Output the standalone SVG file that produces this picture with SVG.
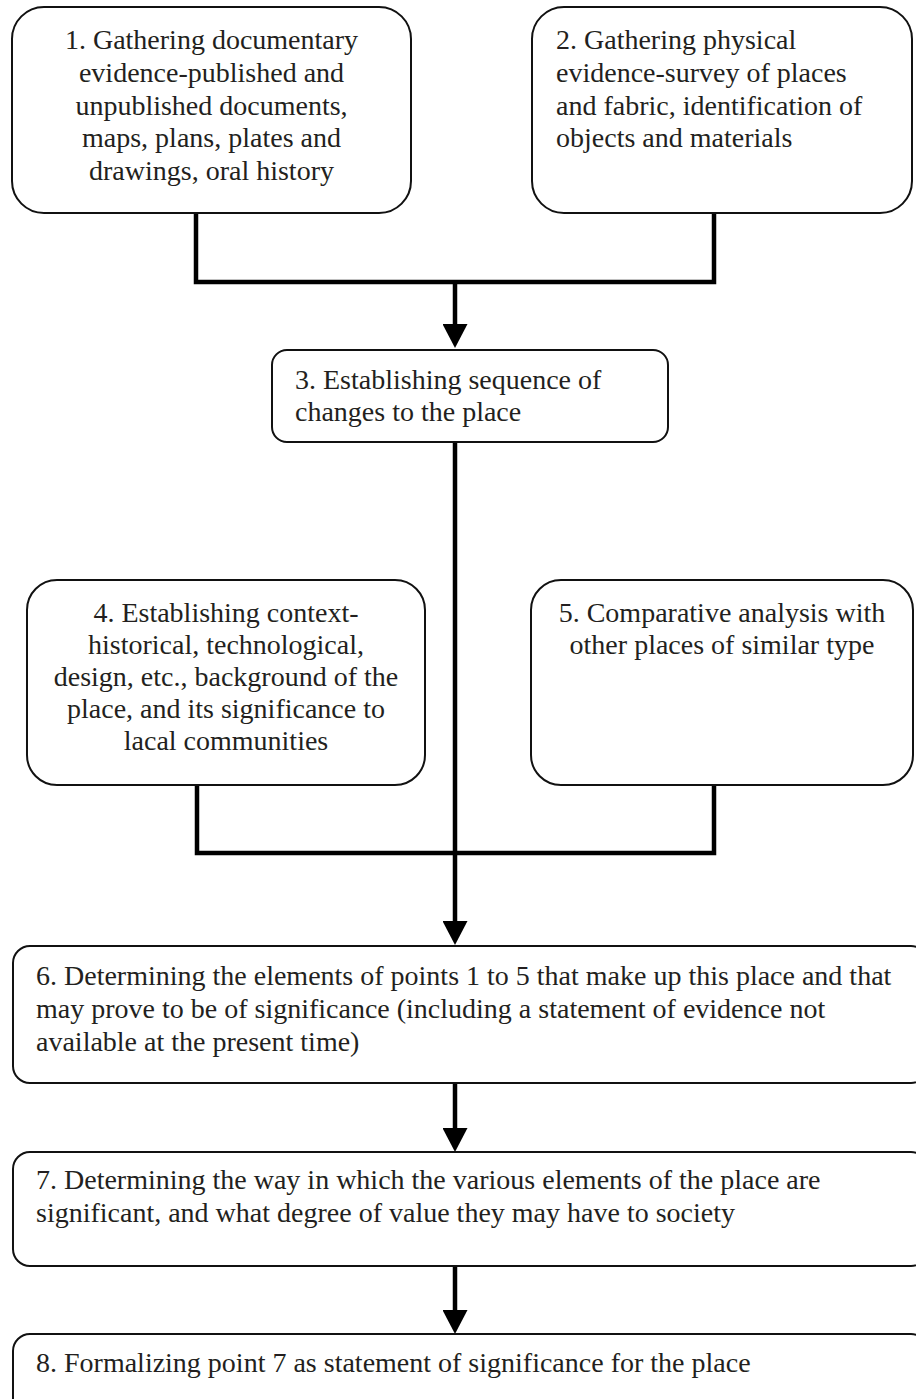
<svg xmlns="http://www.w3.org/2000/svg" width="916" height="1399" viewBox="0 0 916 1399">
<defs>
<style>
.box{fill:#fff;stroke:#111;stroke-width:2}
.t{font-family:"Liberation Serif","Times New Roman",serif;font-size:28px;fill:#231f20}
.c{text-anchor:middle}
.conn{fill:none;stroke:#000;stroke-width:4.5;stroke-linejoin:miter;stroke-linecap:butt}
</style>
<marker id="arr" markerUnits="userSpaceOnUse" viewBox="0 0 24 25" refX="0" refY="12.5" markerWidth="24" markerHeight="25" orient="auto">
<path d="M0,0 L24,12.5 L0,25 Z" fill="#000"/>
</marker>
</defs>
<rect width="916" height="1399" fill="#fff"/>
<g id="connectors">
<path class="conn" d="M196,213 V282 H714 V213"/>
<path class="conn" d="M455,282 V324" marker-end="url(#arr)"/>
<path class="conn" d="M197,785 V853 H714 V785"/>
<path class="conn" d="M455,442 V921" marker-end="url(#arr)"/>
<path class="conn" d="M455,1083 V1128" marker-end="url(#arr)"/>
<path class="conn" d="M455,1266 V1310" marker-end="url(#arr)"/>
</g>
<g id="node1">
<rect class="box" x="12" y="7" width="399" height="206" rx="32"/>
<text class="t c" x="211.5" y="49">1. Gathering documentary</text>
<text class="t c" x="211.5" y="82">evidence-published and</text>
<text class="t c" x="211.5" y="115">unpublished documents,</text>
<text class="t c" x="211.5" y="147">maps, plans, plates and</text>
<text class="t c" x="211.5" y="180">drawings, oral history</text>
</g>
<g id="node2">
<rect class="box" x="532" y="7" width="380" height="206" rx="32"/>
<text class="t" x="556" y="49">2. Gathering physical</text>
<text class="t" x="556" y="82">evidence-survey of places</text>
<text class="t" x="556" y="115">and fabric, identification of</text>
<text class="t" x="556" y="147">objects and materials</text>
</g>
<g id="node3">
<rect class="box" x="272" y="350" width="396" height="92" rx="15"/>
<text class="t" x="295" y="389">3. Establishing sequence of</text>
<text class="t" x="295" y="421">changes to the place</text>
</g>
<g id="node4">
<rect class="box" x="27" y="580" width="398" height="205" rx="30"/>
<text class="t c" x="226" y="622">4. Establishing context-</text>
<text class="t c" x="226" y="654">historical, technological,</text>
<text class="t c" x="226" y="686">design, etc., background of the</text>
<text class="t c" x="226" y="718">place, and its significance to</text>
<text class="t c" x="226" y="750">lacal communities</text>
</g>
<g id="node5">
<rect class="box" x="531" y="580" width="382" height="205" rx="30"/>
<text class="t c" x="722" y="622">5. Comparative analysis with</text>
<text class="t c" x="722" y="654">other places of similar type</text>
</g>
<g id="node6">
<rect class="box" x="13" y="946" width="915" height="137" rx="17"/>
<text class="t" x="36" y="985">6. Determining the elements of points 1 to 5 that make up this place and that</text>
<text class="t" x="36" y="1018">may prove to be of significance (including a statement of evidence not</text>
<text class="t" x="36" y="1051">available at the present time)</text>
</g>
<g id="node7">
<rect class="box" x="13" y="1152" width="915" height="114" rx="17"/>
<text class="t" x="36" y="1189">7. Determining the way in which the various elements of the place are</text>
<text class="t" x="36" y="1222">significant, and what degree of value they may have to society</text>
</g>
<g id="node8">
<rect class="box" x="13" y="1334" width="915" height="90" rx="17"/>
<text class="t" x="36" y="1372">8. Formalizing point 7 as statement of significance for the place</text>
</g>
</svg>
